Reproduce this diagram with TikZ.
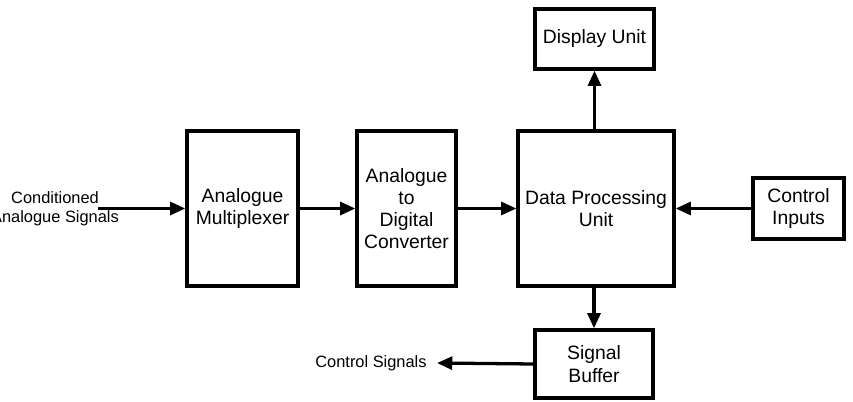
\documentclass[tikz,border=0pt]{standalone}
\usepackage{fontspec}
\setmainfont{Liberation Sans}
\usetikzlibrary{positioning,arrows.meta}

\begin{document}
\begin{tikzpicture}[
  x=0.03cm, y=-0.03cm,
  every node/.style={font=\fontsize{16.5}{19}\selectfont},
  block/.style={draw, line width=2.8pt, align=center, inner sep=0pt},
  lbl/.style={align=center, inner sep=1pt, font=\fontsize{14}{16}\selectfont},
  arr/.style={-{Triangle[length=13pt,width=11pt]}, line width=2.8pt},
]
\useasboundingbox (0,0) rectangle (853,402);

\node[block, minimum width=111*0.03cm, minimum height=155*0.03cm] at (242.5,208.5) (mux)  {Analogue\\Multiplexer};
\node[block, minimum width=99*0.03cm,  minimum height=155*0.03cm] at (406.5,208.5) (adc) {Analogue\\to\\Digital\\Converter};
\node[block, minimum width=156*0.03cm, minimum height=155*0.03cm] at (596,208.5) (dpu)  {Data Processing\\Unit};
\node[block, minimum width=119*0.03cm, minimum height=60*0.03cm]  at (594.5,39) (disp) {Display Unit};
\node[block, minimum width=91*0.03cm,  minimum height=61*0.03cm]  at (798.5,208.5) (ctrl) {Control\\Inputs};
\node[block, minimum width=118*0.03cm, minimum height=68*0.03cm]  at (594,364) (buf)  {Signal\\Buffer};

\node[lbl] at (55,209) (cond) {Conditioned\\Analogue Signals};
\node[lbl, anchor=east] at (428,363) (csig) {Control Signals};
\coordinate (condend) at (98,208.5);

\draw[arr] (condend) -- (mux.west);
\draw[arr] (mux.east) -- (adc.west);
\draw[arr] (adc.east) -- (dpu.west);
\draw[arr] (ctrl.west) -- (dpu.east);
\draw[arr] (dpu.north -| disp.south) -- (disp.south);
\draw[arr] (dpu.south -| buf.north) -- (buf.north);
\draw[arr] (buf.west) -- ([xshift=9*0.03cm]csig.east);
\end{tikzpicture}
\end{document}
